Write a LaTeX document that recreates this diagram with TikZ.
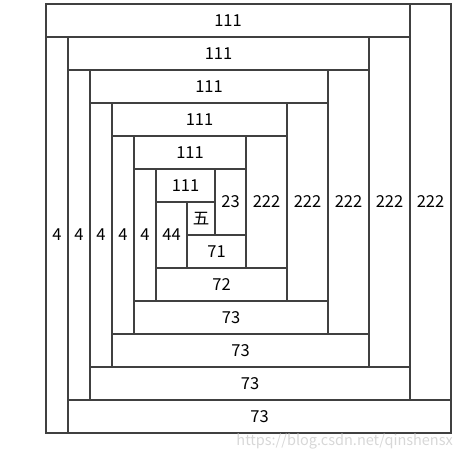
\documentclass[tikz,border=0pt]{standalone}
\usepackage{fontspec}
\setmainfont{Noto Sans CJK SC}
\usetikzlibrary{positioning}

\tikzset{
  cellline/.style={draw=wallgray, line width=1.3pt},
  cellnum/.style={font=\fontsize{16.5}{19}\selectfont, text=black, inner sep=0pt}
}
\definecolor{wallgray}{RGB}{64,64,64}
\definecolor{markgray}{RGB}{215,215,215}

\begin{document}
\begin{tikzpicture}[x=1pt, y=-1pt]
\useasboundingbox (0,0) rectangle (462,462);
% ring 1
\draw[cellline] (46,4) rectangle (410,37) node[midway, cellnum] (top1) {111};
\draw[cellline] (410,4) rectangle (451,400) node[midway, cellnum] (right1) {222};
\draw[cellline] (68,400) rectangle (451,433) node[midway, cellnum] (bot1) {73};
\draw[cellline] (46,37) rectangle (68,433) node[midway, cellnum] (left1) {4};
% ring 2
\draw[cellline] (68,37) rectangle (369,70) node[midway, cellnum] (top2) {111};
\draw[cellline] (369,37) rectangle (410,367) node[midway, cellnum] (right2) {222};
\draw[cellline] (90,367) rectangle (410,400) node[midway, cellnum] (bot2) {73};
\draw[cellline] (68,70) rectangle (90,400) node[midway, cellnum] (left2) {4};
% ring 3
\draw[cellline] (90,70) rectangle (328,103) node[midway, cellnum] (top3) {111};
\draw[cellline] (328,70) rectangle (369,334) node[midway, cellnum] (right3) {222};
\draw[cellline] (112,334) rectangle (369,367) node[midway, cellnum] (bot3) {73};
\draw[cellline] (90,103) rectangle (112,367) node[midway, cellnum] (left3) {4};
% ring 4
\draw[cellline] (112,103) rectangle (287,136) node[midway, cellnum] (top4) {111};
\draw[cellline] (287,103) rectangle (328,301) node[midway, cellnum] (right4) {222};
\draw[cellline] (134,301) rectangle (328,334) node[midway, cellnum] (bot4) {73};
\draw[cellline] (112,136) rectangle (134,334) node[midway, cellnum] (left4) {4};
% ring 5
\draw[cellline] (134,136) rectangle (246,169) node[midway, cellnum] (top5) {111};
\draw[cellline] (246,136) rectangle (287,268) node[midway, cellnum] (right5) {222};
\draw[cellline] (156,268) rectangle (287,301) node[midway, cellnum] (bot5) {72};
\draw[cellline] (134,169) rectangle (156,301) node[midway, cellnum] (left5) {4};
% centre
\draw[cellline] (156,169) rectangle (215,202) node[midway, cellnum] (top6) {111};
\draw[cellline] (215,169) rectangle (246,235) node[midway, cellnum] (right6) {23};
\draw[cellline] (187,235) rectangle (246,268) node[midway, cellnum] (bot6) {71};
\draw[cellline] (156,202) rectangle (187,268) node[midway, cellnum] (left6) {44};
\draw[cellline] (187,202) rectangle (215,235) node[midway, cellnum] (mid) {五};
% watermark
\node[font=\fontsize{14.5}{17}\selectfont, text=markgray, anchor=east, inner sep=0pt] (mark) at (453,442) {https://blog.csdn.net/qinshensx};
\end{tikzpicture}
\end{document}
